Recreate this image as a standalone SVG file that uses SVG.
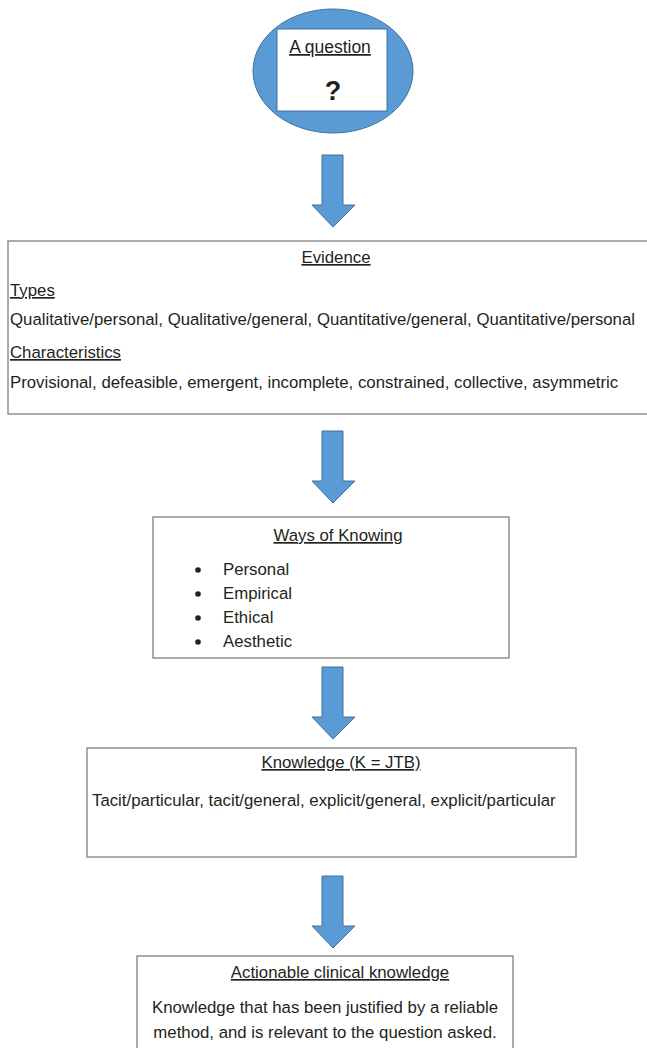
<svg xmlns="http://www.w3.org/2000/svg" width="647" height="1048" viewBox="0 0 647 1048">
<style>
text{font-family:"Liberation Sans",Arial,sans-serif;font-size:16.8px;fill:#231f20}
.u{text-decoration:underline}
.c{text-anchor:middle}
.box{fill:#fff;stroke:#7f7f7f;stroke-width:1.3}
.arr{fill:#5b9bd5;stroke:#41719c;stroke-width:1}
</style>
<defs>
<path id="arrow" class="arr" d="M-11,0 H10 V50 H22 L0,72 L-21,50 H-11 Z"/>
</defs>
<rect width="647" height="1048" fill="#fff"/>
<g id="question">
<ellipse cx="333" cy="71" rx="80" ry="62" fill="#5b9bd5" stroke="#41719c" stroke-width="1"/>
<rect x="277" y="29" width="110" height="82" fill="#fff" stroke="#41719c" stroke-width="1"/>
<text x="330" y="53" class="c u" style="font-size:17.5px">A question</text>
<text x="333" y="100" class="c" style="font-size:27px;font-weight:bold">?</text>
</g>
<g id="connectors">
<use href="#arrow" x="333" y="155"/>
<use href="#arrow" x="333" y="431"/>
<use href="#arrow" x="333" y="667"/>
<use href="#arrow" x="333" y="876"/>
</g>
<g id="evidence">
<rect x="8" y="241" width="645" height="173" class="box"/>
<text x="336" y="263" class="c u">Evidence</text>
<text x="10" y="296" class="u">Types</text>
<text x="10" y="325">Qualitative/personal, Qualitative/general, Quantitative/general, Quantitative/personal</text>
<text x="10" y="358" class="u">Characteristics</text>
<text x="10" y="388">Provisional, defeasible, emergent, incomplete, constrained, collective, asymmetric</text>
</g>
<g id="ways">
<rect x="153" y="517" width="356" height="141" class="box"/>
<text x="338" y="541" class="c u">Ways of Knowing</text>
<circle cx="198" cy="570" r="2.8" fill="#231f20"/>
<circle cx="198" cy="594" r="2.8" fill="#231f20"/>
<circle cx="198" cy="618" r="2.8" fill="#231f20"/>
<circle cx="198" cy="642" r="2.8" fill="#231f20"/>
<text x="223" y="575">Personal</text>
<text x="223" y="599">Empirical</text>
<text x="223" y="623">Ethical</text>
<text x="223" y="647">Aesthetic</text>
</g>
<g id="knowledge">
<rect x="87" y="748" width="489" height="109" class="box"/>
<text x="341" y="768" class="c u">Knowledge (K = JTB)</text>
<text x="92" y="806">Tacit/particular, tacit/general, explicit/general, explicit/particular</text>
</g>
<g id="actionable">
<rect x="137" y="956" width="376" height="95" class="box"/>
<text x="340" y="978" class="c u">Actionable clinical knowledge</text>
<text x="325" y="1013" class="c">Knowledge that has been justified by a reliable</text>
<text x="325" y="1038" class="c">method, and is relevant to the question asked.</text>
</g>
</svg>
